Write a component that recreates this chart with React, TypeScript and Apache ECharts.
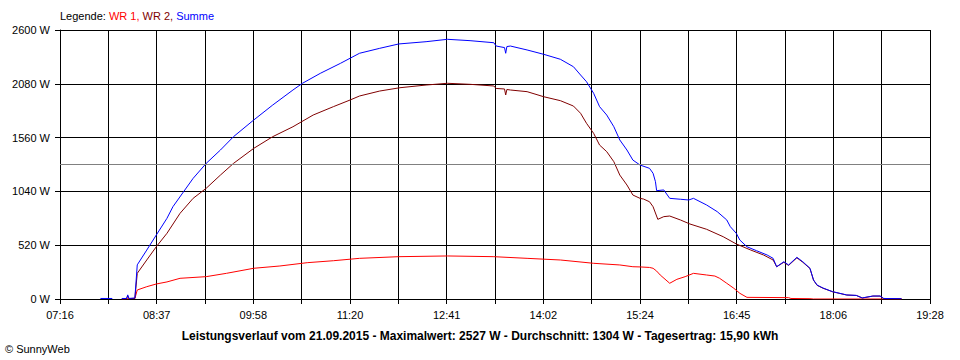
import React, { useEffect, useRef } from "react";
import * as echarts from "echarts";

type P = [string, number | null];

// Axis definitions
const START_MIN = 7 * 60 + 16; // 07:16
const END_MIN = 19 * 60 + 28; // 19:28
const X_STEPS = 18;
const Y_MAX = 2600;
const Y_STEP = 520;
const AVERAGE = 1304;

const LEGEND_LABELS = ["WR 1", "WR 2", "Summe"];
const TITLE_TEXT =
  "Leistungsverlauf vom 21.09.2015 - Maximalwert: 2527 W - Durchschnitt: 1304 W - Tagesertrag: 15,90 kWh";
const COPYRIGHT = "© SunnyWeb";

const SUMME: P[] = [
  ["07:50", 5], ["08:00", 5], ["08:04", null], ["08:08", 5], ["08:12", 5], ["08:13", 40], ["08:14", 5],
  ["08:19", 10], ["08:21", 330], ["08:29", 473], ["08:37", 618], ["08:46", 780], ["08:51", 892],
  ["09:00", 1037], ["09:08", 1166], ["09:19", 1311], ["09:31", 1440], ["09:42", 1569], ["09:59", 1730],
  ["10:15", 1875], ["10:32", 2020], ["10:40", 2085], ["10:55", 2181], ["11:12", 2278], ["11:28", 2375],
  ["11:45", 2423], ["12:01", 2465], ["12:24", 2487], ["12:42", 2510], ["13:01", 2497], ["13:21", 2477],
  ["13:23", 2445], ["13:30", 2430], ["13:31", 2375], ["13:32", 2440], ["13:35", 2445], ["13:49", 2407],
  ["14:03", 2365], ["14:17", 2317], ["14:28", 2245], ["14:34", 2165], ["14:39", 2100], ["14:45", 1988],
  ["14:50", 1859], ["14:56", 1778], ["15:02", 1665], ["15:07", 1537], ["15:13", 1440], ["15:18", 1343],
  ["15:24", 1295], ["15:32", 1263], ["15:35", 1215], ["15:37", 1134], ["15:38", 1047], ["15:44", 1054],
  ["15:49", 973], ["15:58", 964], ["16:05", 957], ["16:09", 973], ["16:20", 909], ["16:29", 844],
  ["16:37", 764], ["16:40", 699], ["16:45", 635], ["16:48", 570], ["16:54", 505], ["17:02", 467],
  ["17:11", 425], ["17:16", 393], ["17:19", 312], ["17:25", 360], ["17:29", 329], ["17:36", 403],
  ["17:41", 360], ["17:47", 297], ["17:50", 184], ["17:53", 135], ["17:58", 106], ["18:06", 71],
  ["18:18", 39], ["18:26", 35], ["18:31", 10], ["18:40", 29], ["18:46", 29], ["18:49", 5], ["19:04", 3],
];

const WR2: P[] = [
  ["08:08", 0], ["08:12", 5], ["08:13", 30], ["08:14", 5], ["08:19", 5], ["08:21", 248], ["08:29", 377],
  ["08:37", 505], ["08:46", 635], ["08:57", 828], ["09:08", 973], ["09:19", 1070], ["09:31", 1198],
  ["09:42", 1311], ["09:59", 1456], ["10:15", 1569], ["10:32", 1665], ["10:49", 1778], ["11:06", 1859],
  ["11:20", 1923], ["11:28", 1962], ["11:45", 2010], ["12:02", 2042], ["12:24", 2068], ["12:42", 2085],
  ["13:01", 2075], ["13:21", 2059], ["13:23", 2035], ["13:30", 2030], ["13:31", 1972], ["13:32", 2025],
  ["13:35", 2020], ["13:49", 2004], ["14:03", 1955], ["14:17", 1917], ["14:28", 1865], ["14:34", 1795],
  ["14:39", 1698], ["14:45", 1601], ["14:50", 1488], ["14:56", 1424], ["15:02", 1327], ["15:07", 1198],
  ["15:13", 1102], ["15:18", 1005], ["15:24", 973], ["15:27", 966], ["15:32", 940], ["15:35", 892],
  ["15:39", 770], ["15:44", 796], ["15:49", 802], ["15:58", 764], ["16:06", 725], ["16:20", 674],
  ["16:34", 602], ["16:45", 532], ["16:57", 474], ["17:08", 425], ["17:16", 377], ["17:19", 312],
  ["17:25", 355], ["17:29", 325], ["17:36", 398], ["17:41", 355], ["17:47", 295], ["17:50", 182],
  ["17:53", 132], ["17:58", 104], ["18:06", 70], ["18:18", 38], ["18:26", 34], ["18:31", 10],
  ["18:40", 28], ["18:46", 28], ["18:49", 5], ["19:04", 3],
];

const WR1: P[] = [
  ["08:08", 0], ["08:19", 5], ["08:21", 87], ["08:29", 119], ["08:37", 145], ["08:46", 165], ["08:57", 200],
  ["09:19", 216], ["09:36", 248], ["09:59", 297], ["10:21", 319], ["10:44", 351], ["11:06", 370],
  ["11:28", 393], ["12:01", 409], ["12:42", 416], ["13:21", 409], ["13:49", 393], ["14:17", 377],
  ["14:45", 345], ["15:07", 329], ["15:18", 312], ["15:24", 310], ["15:32", 305], ["15:35", 297],
  ["15:38", 270], ["15:41", 232], ["15:49", 152], ["15:55", 190], ["16:02", 216], ["16:09", 248],
  ["16:20", 232], ["16:27", 222], ["16:31", 200], ["16:37", 152], ["16:43", 103], ["16:48", 55],
  ["16:54", 16], ["17:29", 13], ["17:31", 5], ["17:47", 3], ["17:50", 0], ["19:04", 0],
];

const FONT = "'Liberation Sans', Arial, sans-serif";
const STEP_MIN = (END_MIN - START_MIN) / X_STEPS;

function toMin(t: string): number {
  const [h, m] = t.split(":").map(Number);
  return h * 60 + m;
}
function toX(t: string): number {
  return (toMin(t) - START_MIN) / STEP_MIN;
}
function fmt(min: number): string {
  const h = Math.floor(min / 60);
  const m = min % 60;
  return String(h).padStart(2, "0") + ":" + String(m).padStart(2, "0");
}
function toData(arr: P[]) {
  return arr.map(([t, v]) => [toX(t), v === null ? "-" : v]);
}

export default function App() {
  const ref = useRef<HTMLDivElement>(null);
  useEffect(() => {
    if (!ref.current) return;
    const chart = echarts.init(ref.current, undefined, { renderer: "svg" });
    const lineBase = { type: "line", showSymbol: false, symbol: "none", silent: true };
    const rt = (color: string) => ({ color, fontSize: 11, fontFamily: FONT, fontWeight: "normal" });
    chart.setOption({
      animation: false,
      backgroundColor: "#fff",
      title: [
        {
          text: `{k|Legende: }{a|${LEGEND_LABELS[0]}, }{b|${LEGEND_LABELS[1]}, }{c|${LEGEND_LABELS[2]}}`,
          left: 60,
          top: 10,
          padding: 0,
          textStyle: {
            fontWeight: "normal",
            fontSize: 11,
            rich: { k: rt("#000"), a: rt("#ff0000"), b: rt("#800000"), c: rt("#0000ff") },
          },
        },
        {
          text: TITLE_TEXT,
          left: "center",
          top: 330,
          padding: 0,
          textStyle: { color: "#000", fontSize: 12, fontWeight: "bold", fontFamily: FONT },
        },
        {
          text: COPYRIGHT,
          left: 5,
          top: 343,
          padding: 0,
          textStyle: { color: "#000", fontSize: 11, fontWeight: "normal", fontFamily: FONT },
        },
      ],
      grid: { left: 60, right: 30, top: 30, bottom: 61, containLabel: false, outerBoundsMode: "none" },
      xAxis: {
        type: "value",
        min: 0,
        max: X_STEPS,
        interval: 1,
        axisLine: { show: true, lineStyle: { color: "#000", width: 1 } },
        axisTick: { show: true, length: 5, lineStyle: { color: "#000", width: 1 } },
        splitLine: { show: true, lineStyle: { color: "#000", width: 1 } },
        axisLabel: {
          color: "#000",
          fontSize: 11,
          fontFamily: FONT,
          margin: 10,
          showMinLabel: true,
          showMaxLabel: true,
          formatter: (v: number) => {
            const i = Math.round(v);
            if (i % 2 !== 0) return "";
            return fmt(Math.floor(START_MIN + i * STEP_MIN + 1e-6));
          },
        },
      },
      yAxis: {
        type: "value",
        min: 0,
        max: Y_MAX,
        interval: Y_STEP,
        axisLine: { show: true, lineStyle: { color: "#000", width: 1 } },
        axisTick: { show: true, length: 5, lineStyle: { color: "#000", width: 1 } },
        splitLine: { show: true, lineStyle: { color: "#000", width: 1 } },
        axisLabel: {
          color: "#000",
          fontSize: 11,
          fontFamily: FONT,
          margin: 10,
          formatter: (v: number) => `${v} W`,
        },
      },
      series: [
        {
          ...lineBase,
          name: LEGEND_LABELS[0],
          data: toData(WR1),
          lineStyle: { color: "#ff0000", width: 1 },
          itemStyle: { color: "#ff0000" },
          markLine: {
            silent: true,
            symbol: ["none", "none"],
            label: { show: false },
            lineStyle: { color: "#808080", type: "solid", width: 1 },
            data: [{ yAxis: AVERAGE }],
          },
        },
        {
          ...lineBase,
          name: LEGEND_LABELS[1],
          data: toData(WR2),
          lineStyle: { color: "#800000", width: 1 },
          itemStyle: { color: "#800000" },
        },
        {
          ...lineBase,
          name: LEGEND_LABELS[2],
          data: toData(SUMME),
          lineStyle: { color: "#0000ff", width: 1 },
          itemStyle: { color: "#0000ff" },
        },
      ],
    });
    return () => chart.dispose();
  }, []);
  return (
    <div
      ref={ref}
      style={{ position: "fixed", left: 0, top: 0, width: 960, height: 360, background: "#fff" }}
    />
  );
}
